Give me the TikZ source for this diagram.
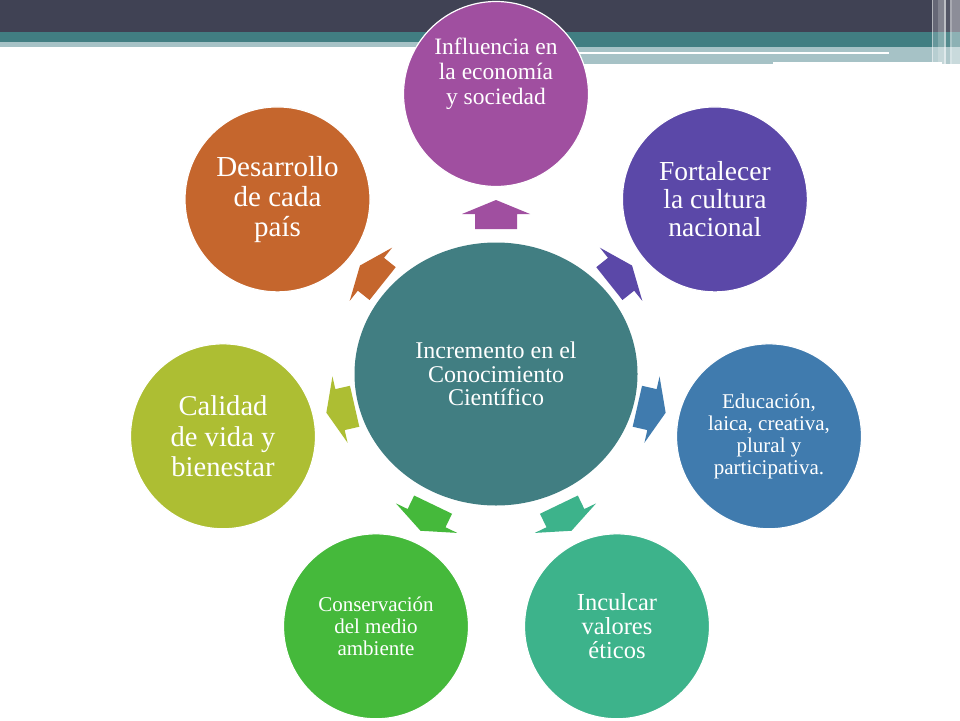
\documentclass[tikz,border=0pt]{standalone}
\usepackage{fontspec}
\setmainfont{Liberation Serif}
\newfontfamily\tnr{Liberation Serif}
\usetikzlibrary{shapes.geometric}
\definecolor{hdark}{HTML}{404254}
\definecolor{hteal}{HTML}{417E82}
\definecolor{hlight}{HTML}{A6C2C6}
\definecolor{cHub}{HTML}{417E82}
\definecolor{cInf}{HTML}{A04FA0}
\definecolor{cFor}{HTML}{5B48A8}
\definecolor{cEdu}{HTML}{407BAE}
\definecolor{cInc}{HTML}{3DB38B}
\definecolor{cCon}{HTML}{45B93B}
\definecolor{cCal}{HTML}{ADBE33}
\definecolor{cDes}{HTML}{C5662D}
\begin{document}
\begin{tikzpicture}[x=1pt,y=-1pt,
  bubble/.style={circle, draw=white, line width=1.2pt, minimum size=185pt, inner sep=0pt, text=white, align=center},
  hub/.style={ellipse, fill=cHub, minimum width=283pt, minimum height=263pt, inner sep=0pt, text=white, align=center},
  stripe/.style={fill=white}
]
\useasboundingbox (0,0) rectangle (960,720);
\fill[white] (0,0) rectangle (960,720);
% header
\fill[hdark] (0,0) rectangle (960,32);
\fill[hteal] (0,32) rectangle (496,42);
\fill[hlight] (0,42) rectangle (496,47);
\fill[hteal] (496,32) rectangle (960,47);
\fill[hlight] (496,47) rectangle (960,64);
\fill[white] (540,52) rectangle (889,54);
\fill[white] (773,62) rectangle (942,64);
% right stripes
\fill[stripe, opacity=0.6] (932,0) rectangle (933,64);
\fill[stripe, opacity=0.2] (933,0) rectangle (938,64);
\fill[stripe, opacity=0.35] (938,0) rectangle (944,64);
\fill[stripe, opacity=0.65] (944,0) rectangle (946,64);
\fill[stripe, opacity=0.1] (946,0) rectangle (950,64);
\fill[stripe, opacity=0.55] (950,0) rectangle (952,64);
\fill[stripe, opacity=0.4] (952,0) rectangle (960,64);
% hub
\node[hub, font=\tnr\fontsize{24}{23.5}\selectfont] (hub) at (496,374) {Incremento en el\\Conocimiento\\Científico};
% outer bubbles
\node[bubble, fill=cInf, label={[text=white, align=center, yshift=20pt, font=\tnr\fontsize{23.5}{25}\selectfont]center:{Influencia en\\la economía\\y sociedad}}] (inf) at (496,94) {};
\node[bubble, fill=cFor, font=\tnr\fontsize{27.5}{28}\selectfont] (for) at (714.9,199.4) {Fortalecer\\la cultura\\nacional};
\node[bubble, fill=cEdu, font=\tnr\fontsize{21}{22}\selectfont] (edu) at (769,436.3) {Educación,\\laica, creativa,\\plural y\\participativa.};
\node[bubble, fill=cInc, font=\tnr\fontsize{24.5}{24}\selectfont] (inc) at (617,626.3) {Inculcar\\valores\\éticos};
\node[bubble, fill=cCon, font=\tnr\fontsize{21}{21.8}\selectfont] (con) at (376,626.3) {Conservación\\del medio\\ambiente};
\node[bubble, fill=cCal, font=\tnr\fontsize{28.6}{30.5}\selectfont] (cal) at (223,436.3) {Calidad\\de vida y\\bienestar};
\node[bubble, fill=cDes, font=\tnr\fontsize{29}{30}\selectfont] (des) at (277.5,199.4) {Desarrollo\\de cada\\país};
% block arrows from hub toward each bubble
\foreach \a/\col in {90/cInf, 38.571/cFor, -12.857/cEdu, -64.286/cInc, -115.714/cCon, -167.143/cCal, 141.429/cDes} {
  \pgfmathsetmacro\rot{\a-90}
  \fill[\col, shift={(hub.center)}, rotate=\rot] (-21,-145) -- (-21,-160) -- (-34,-160) -- (0,-174) -- (34,-160) -- (21,-160) -- (21,-145) -- cycle;
}
\end{tikzpicture}
\end{document}
